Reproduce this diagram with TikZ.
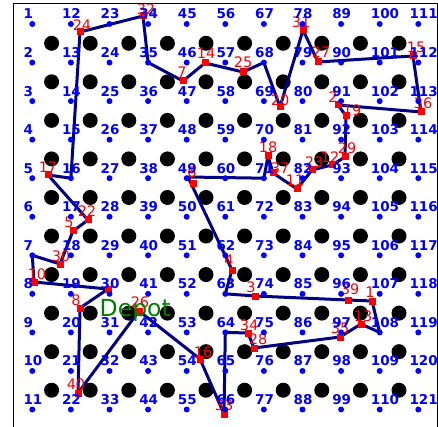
\documentclass[tikz,border=0pt]{standalone}
\usepackage{fontspec}
\newfontfamily\dvs{DejaVu Sans}
\usetikzlibrary{calc}
\definecolor{routecol}{RGB}{0,0,128}
\definecolor{depotgreen}{RGB}{0,128,0}
\tikzset{
 blackdot/.style={circle,fill=black,inner sep=0pt,minimum size=15pt},
 bluedot/.style={circle,fill=blue,inner sep=0pt,minimum size=6pt},
 bluelab/.style={text=blue,inner sep=0pt,anchor=base west,font=\dvs\bfseries\fontsize{13.5}{13.5}\selectfont},
 redlab/.style={text=red,inner sep=0pt,anchor=center,font=\dvs\fontsize{14.5}{14.5}\selectfont},
 redsq/.style={fill=red,inner sep=0pt,minimum size=7pt},
 route/.style={draw=routecol,line width=3pt,line join=round},
 frame/.style={draw=black,line width=1pt},
}
\begin{document}
\begin{tikzpicture}[x=1pt,y=-1pt]
\useasboundingbox (0,0) rectangle (438,427);
% black obstacles
\foreach \c in {0,...,9}{\foreach \r in {0,...,9}{
  \node[blackdot] (b\c-\r) at ({32.3+38.6*(\c+0.5)},{24+38.55*(\r+0.5)}) {};
}}
% grid coordinates
\foreach \c in {0,...,10}{\foreach \r in {0,...,10}{
  \pgfmathtruncatemacro\nn{\c*11+\r+1}
  \coordinate (n\nn) at ({32.3+38.6*\c},{24+38.55*\r});
}}
% customers
\foreach \nm/\x/\y/\lx/\ly in {
26/139/311/140/302, 16/200/359/203/352, 33/224/414/224/405, 34/248/333/249/325,
28/254/348/258/339, 35/340/337/340/328, 13/361/324/363/316, 1/372/301/370/292,
39/348/300/350/289, 3/255/296/251/287, 4/232/270/229/260, 18/268/156/268/147,
37/273/173/280/168, 11/297/189/295/180, 23/312/170/314/162, 12/332/165/330/157,
29/345/157/347/148, 19/346/116/352/110, 2/338/105/333/97, 36/421/112/423/103,
15/413/56/416/47, 27/318/62/321/52, 31/303/30/301/22, 20/280/107/280/100,
25/243/72/243/62, 14/205/63/206/53, 7/183/81/182/72, 32/143/16/146/9,
24/80/32/82/25, 17/48/175/48/167, 22/88/220/87/211, 5/73/231/69/222,
30/60/264/61/256, 10/34/282/37/274, 8/80/308/76/300, 40/78/393/76/384}{
  \coordinate (c\nm) at (\x,\y);
  \coordinate (l\nm) at (\lx,\ly);
}
\coordinate (c6) at (188,177);
\coordinate (cq) at (108,289);
% route
\draw[route] (c26) -- (c16) -- (c33) -- (n64) -- (c34) -- (c28) -- (c35) -- (c13)
 -- (n108) -- (c1) -- (c39) -- (c3) -- (n63) -- (c4) -- (c6) -- (n71) -- (c18)
 -- (c37) -- (c11) -- (c23) -- (c12) -- (c29) -- (c19) -- (c2) -- (c36) -- (c15)
 -- (c27) -- (c31) -- (c20) -- (n68) -- (c25) -- (c14) -- (c7) -- (n35) -- (c32)
 -- (c24) -- (n16) -- (c17) -- (c22) -- (c5) -- (c30) -- (n7) -- (c10) -- (cq)
 -- (c8) -- (c40) -- cycle;
% customer markers and labels
\foreach \nm in {26,16,33,34,28,35,13,1,39,3,4,18,37,11,23,12,29,19,2,36,15,27,31,20,25,14,7,32,24,17,22,5,30,10,8,40}{
  \node[redsq] (q\nm) at (c\nm) {};
  \node[redlab] (t\nm) at (l\nm) {\nm};
}
\node[redsq] (q6) at (193,184) {};
\node[redlab] (t6) at (192,172) {6};
\node[redsq] (qq) at (cq) {};
% grid dots and labels
\foreach \c in {0,...,10}{\foreach \r in {0,...,10}{
  \pgfmathtruncatemacro\nn{\c*11+\r+1}
  \node[bluedot] (d\nn) at (n\nn) {};
  \node[bluelab] (g\nn) at ($(n\nn)+(-9,-5)$) {\nn};
}}
\node[text=depotgreen,inner sep=0pt,anchor=base west,font=\dvs\fontsize{23.5}{23.5}\selectfont] (depot) at (99.5,316) {Depot};
% frame
\draw[frame] (13,427) -- (13,4) -- (437,4) -- (437,427);
\end{tikzpicture}
\end{document}
